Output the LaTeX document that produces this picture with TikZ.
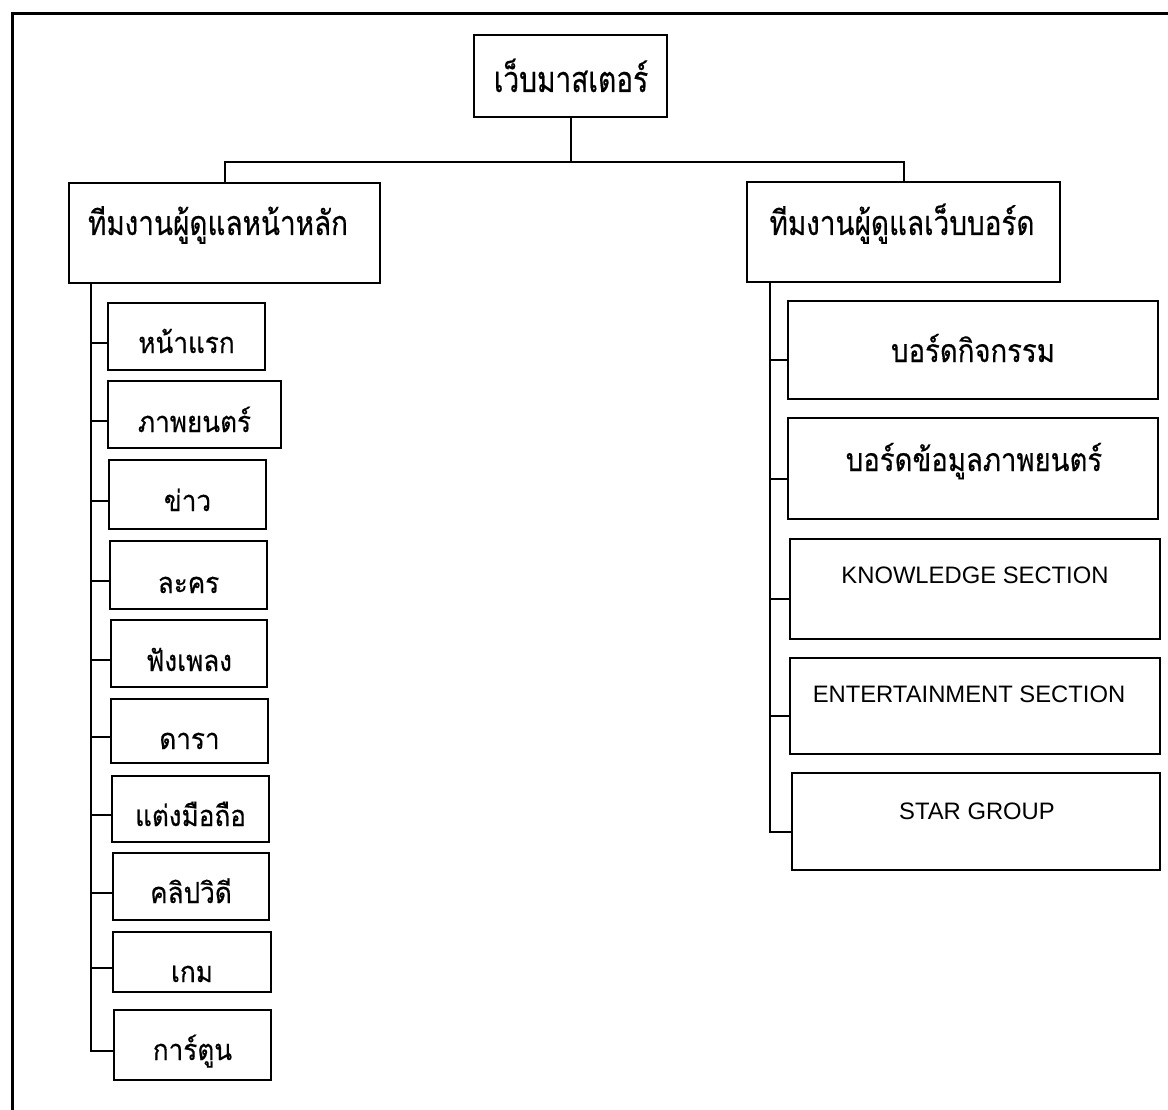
\documentclass[tikz,border=0pt]{standalone}
\usepackage{fontspec}
\setmainfont{Liberation Sans}
\newfontfamily\thairoot[Script=Thai,FakeStretch=0.78,FakeBold=0.4]{Loma}
\newfontfamily\thaihead[Script=Thai,FakeStretch=0.82,FakeBold=0.4]{Loma}
\newfontfamily\thaileft[Script=Thai,FakeStretch=0.90,FakeBold=0.4]{Loma}
\newfontfamily\thairight[Script=Thai,FakeStretch=0.86,FakeBold=0.4]{Loma}
\usetikzlibrary{fit}
\begin{document}
\begin{tikzpicture}[x=1pt,y=-1pt,
  box/.style={draw,line width=2.2pt,inner sep=0pt},
  txt/.style={inner sep=0pt,anchor=base},
  throot/.style={txt,font=\thairoot\fontsize{36}{40}\selectfont},
  thhead/.style={txt,font=\thaihead\fontsize{34}{38}\selectfont},
  thleft/.style={txt,font=\thaileft\fontsize{29}{33}\selectfont},
  thright/.style={txt,font=\thairight\fontsize{32}{36}\selectfont},
  en/.style={txt,font=\fontsize{23.8}{28}\selectfont},
  conn/.style={line width=2pt}]
\useasboundingbox (0,0) rectangle (1168,1110);
\fill[white] (0,0) rectangle (1168,1110);
\draw[line width=3pt] (12,1112) -- (12,14) -- (1170,14);
% top levels
\node[box,fit={(474,35) (667,117)}] (root) {};
\node[throot] (troot) at (571,92) {เว็บมาสเตอร์};
\node[box,fit={(69,183) (380,283)}] (L) {};
\node[thhead] (tL) at (218,235) {ทีมงานผู้ดูแลหน้าหลัก};
\node[box,fit={(747,182) (1060,282)}] (R) {};
\node[thhead] (tR) at (902,235) {ทีมงานผู้ดูแลเว็บบอร์ด};
\coordinate (bar) at (570.5,162);
\draw[conn] (root.south) -- (bar);
\draw[conn] (L.north) |- (bar) -| (R.north);
% left boxes
\node[box,fit={(108,303) (265,370)}] (b1) {};
\node[thleft] (t1) at (186.5,353) {หน้าแรก};
\node[box,fit={(108,381) (281,448)}] (b2) {};
\node[thleft] (t2) at (194.5,432) {ภาพยนตร์};
\node[box,fit={(109,460) (266,529)}] (b3) {};
\node[thleft] (t3) at (187.5,511) {ข่าว};
\node[box,fit={(110,541) (267,609)}] (b4) {};
\node[thleft] (t4) at (188.5,593) {ละคร};
\node[box,fit={(111,620) (267,687)}] (b5) {};
\node[thleft] (t5) at (189,671) {ฟังเพลง};
\node[box,fit={(111,699) (268,763)}] (b6) {};
\node[thleft] (t6) at (189.5,749) {ดารา};
\node[box,fit={(112,776) (269,842)}] (b7) {};
\node[thleft] (t7) at (190.5,826) {แต่งมือถือ};
\node[box,fit={(113,853) (269,920)}] (b8) {};
\node[thleft] (t8) at (191,903) {คลิปวิดี};
\node[box,fit={(113,932) (271,992)}] (b9) {};
\node[thleft] (t9) at (192,982) {เกม};
\node[box,fit={(114,1010) (271,1080)}] (b10) {};
\node[thleft] (t10) at (192.5,1060) {การ์ตูน};
\foreach \i in {1,...,10} {\path ([yshift=-6pt]b\i.west) coordinate (j\i);}
\coordinate (lt) at (91,1049);
\draw[conn] (L.south -| lt) -- (lt |- j10) -- (j10);
\foreach \i in {1,...,9} {\draw[conn] (lt |- j\i) -- (j\i);}
% right boxes
\node[box,fit={(788,301) (1158,399)}] (c1) {};
\node[thright] (s1) at (973,362) {บอร์ดกิจกรรม};
\node[box,fit={(788,418) (1158,519)}] (c2) {};
\node[thright] (s2) at (974,471) {บอร์ดข้อมูลภาพยนตร์};
\node[box,fit={(790,539) (1160,639)}] (c3) {};
\node[en] (s3) at (975,583) {KNOWLEDGE SECTION};
\node[box,fit={(790,658) (1160,754)}] (c4) {};
\node[en] (s4) at (969,702) {ENTERTAINMENT SECTION};
\node[box,fit={(792,773) (1160,870)}] (c5) {};
\node[en] (s5) at (977,819) {STAR GROUP};
\foreach \i in {1,...,5} {\path ([yshift=-10pt]c\i.west) coordinate (k\i);}
\coordinate (rt) at (770,830);
\draw[conn] (R.south -| rt) -- (rt |- k5) -- (k5);
\foreach \i in {1,...,4} {\draw[conn] (k\i) -- (rt |- k\i);}
\end{tikzpicture}
\end{document}
